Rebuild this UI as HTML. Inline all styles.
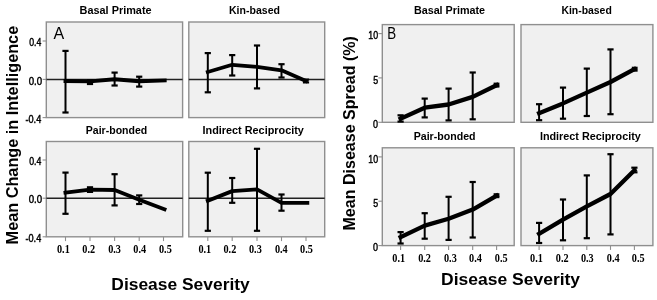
<!DOCTYPE html>
<html><head><meta charset="utf-8"><style>
html,body{margin:0;padding:0;background:#fff;}
svg{display:block;filter:blur(0.35px);}
</style></head><body>
<svg width="657" height="300" viewBox="0 0 657 300">
<rect width="657" height="300" fill="#fff"/>
<rect x="46.3" y="22.0" width="136.3" height="95.6" fill="#f0f0f0" stroke="#8f8f8f" stroke-width="1.4"/>
<rect x="188.8" y="22.0" width="135.89999999999998" height="95.6" fill="#f0f0f0" stroke="#8f8f8f" stroke-width="1.4"/>
<rect x="46.3" y="141.5" width="136.39999999999998" height="95.30000000000001" fill="#f0f0f0" stroke="#8f8f8f" stroke-width="1.4"/>
<rect x="188.8" y="141.5" width="135.89999999999998" height="95.30000000000001" fill="#f0f0f0" stroke="#8f8f8f" stroke-width="1.4"/>
<line x1="46.3" y1="79.4" x2="182.6" y2="79.4" stroke="#222" stroke-width="1.5"/>
<line x1="188.8" y1="79.4" x2="324.7" y2="79.4" stroke="#222" stroke-width="1.5"/>
<line x1="46.3" y1="198.2" x2="182.7" y2="198.2" stroke="#222" stroke-width="1.5"/>
<line x1="188.8" y1="198.2" x2="324.7" y2="198.2" stroke="#222" stroke-width="1.5"/>
<line x1="42.6" y1="41.0" x2="46.3" y2="41.0" stroke="#8f8f8f" stroke-width="1.1"/>
<line x1="42.6" y1="79.4" x2="46.3" y2="79.4" stroke="#8f8f8f" stroke-width="1.1"/>
<line x1="42.6" y1="117.6" x2="46.3" y2="117.6" stroke="#8f8f8f" stroke-width="1.1"/>
<line x1="42.6" y1="160.0" x2="46.3" y2="160.0" stroke="#8f8f8f" stroke-width="1.1"/>
<line x1="42.6" y1="198.2" x2="46.3" y2="198.2" stroke="#8f8f8f" stroke-width="1.1"/>
<line x1="42.6" y1="236.8" x2="46.3" y2="236.8" stroke="#8f8f8f" stroke-width="1.1"/>
<line x1="65.5" y1="236.8" x2="65.5" y2="241.10000000000002" stroke="#8f8f8f" stroke-width="1.1"/>
<line x1="90.0" y1="236.8" x2="90.0" y2="241.10000000000002" stroke="#8f8f8f" stroke-width="1.1"/>
<line x1="114.6" y1="236.8" x2="114.6" y2="241.10000000000002" stroke="#8f8f8f" stroke-width="1.1"/>
<line x1="139.2" y1="236.8" x2="139.2" y2="241.10000000000002" stroke="#8f8f8f" stroke-width="1.1"/>
<line x1="163.5" y1="236.8" x2="163.5" y2="241.10000000000002" stroke="#8f8f8f" stroke-width="1.1"/>
<line x1="207.8" y1="236.8" x2="207.8" y2="241.10000000000002" stroke="#8f8f8f" stroke-width="1.1"/>
<line x1="232.2" y1="236.8" x2="232.2" y2="241.10000000000002" stroke="#8f8f8f" stroke-width="1.1"/>
<line x1="257.0" y1="236.8" x2="257.0" y2="241.10000000000002" stroke="#8f8f8f" stroke-width="1.1"/>
<line x1="281.5" y1="236.8" x2="281.5" y2="241.10000000000002" stroke="#8f8f8f" stroke-width="1.1"/>
<line x1="306.0" y1="236.8" x2="306.0" y2="241.10000000000002" stroke="#8f8f8f" stroke-width="1.1"/>
<path d="M65.5,81.0 L90.0,81.4 L114.6,79.2 L139.2,81.2 L164.7,80.4" fill="none" stroke="#000" stroke-width="3.9" stroke-linejoin="round" stroke-linecap="square"/>
<line x1="65.5" y1="50.9" x2="65.5" y2="112.5" stroke="#000" stroke-width="2.0"/><line x1="62.4" y1="50.9" x2="68.6" y2="50.9" stroke="#000" stroke-width="2.2"/><line x1="62.4" y1="112.5" x2="68.6" y2="112.5" stroke="#000" stroke-width="2.2"/>
<line x1="90.0" y1="80.4" x2="90.0" y2="84.0" stroke="#000" stroke-width="2.0"/><line x1="86.9" y1="80.4" x2="93.1" y2="80.4" stroke="#000" stroke-width="2.2"/><line x1="86.9" y1="84.0" x2="93.1" y2="84.0" stroke="#000" stroke-width="2.2"/>
<line x1="114.6" y1="72.6" x2="114.6" y2="85.5" stroke="#000" stroke-width="2.0"/><line x1="111.5" y1="72.6" x2="117.69999999999999" y2="72.6" stroke="#000" stroke-width="2.2"/><line x1="111.5" y1="85.5" x2="117.69999999999999" y2="85.5" stroke="#000" stroke-width="2.2"/>
<line x1="139.2" y1="76.7" x2="139.2" y2="86.6" stroke="#000" stroke-width="2.0"/><line x1="136.1" y1="76.7" x2="142.29999999999998" y2="76.7" stroke="#000" stroke-width="2.2"/><line x1="136.1" y1="86.6" x2="142.29999999999998" y2="86.6" stroke="#000" stroke-width="2.2"/>
<path d="M207.8,72.0 L232.2,64.8 L257.0,66.8 L281.5,70.3 L306.0,81.0" fill="none" stroke="#000" stroke-width="3.8" stroke-linejoin="round" stroke-linecap="square"/>
<line x1="207.8" y1="53.1" x2="207.8" y2="92.3" stroke="#000" stroke-width="2.0"/><line x1="204.70000000000002" y1="53.1" x2="210.9" y2="53.1" stroke="#000" stroke-width="2.2"/><line x1="204.70000000000002" y1="92.3" x2="210.9" y2="92.3" stroke="#000" stroke-width="2.2"/>
<line x1="232.2" y1="55.1" x2="232.2" y2="75.5" stroke="#000" stroke-width="2.0"/><line x1="229.1" y1="55.1" x2="235.29999999999998" y2="55.1" stroke="#000" stroke-width="2.2"/><line x1="229.1" y1="75.5" x2="235.29999999999998" y2="75.5" stroke="#000" stroke-width="2.2"/>
<line x1="257.0" y1="45.5" x2="257.0" y2="88.4" stroke="#000" stroke-width="2.0"/><line x1="253.9" y1="45.5" x2="260.1" y2="45.5" stroke="#000" stroke-width="2.2"/><line x1="253.9" y1="88.4" x2="260.1" y2="88.4" stroke="#000" stroke-width="2.2"/>
<line x1="281.5" y1="64.2" x2="281.5" y2="77.5" stroke="#000" stroke-width="2.0"/><line x1="278.4" y1="64.2" x2="284.6" y2="64.2" stroke="#000" stroke-width="2.2"/><line x1="278.4" y1="77.5" x2="284.6" y2="77.5" stroke="#000" stroke-width="2.2"/>
<line x1="306.0" y1="79.6" x2="306.0" y2="82.4" stroke="#000" stroke-width="2.0"/><line x1="302.9" y1="79.6" x2="309.1" y2="79.6" stroke="#000" stroke-width="2.2"/><line x1="302.9" y1="82.4" x2="309.1" y2="82.4" stroke="#000" stroke-width="2.2"/>
<path d="M65.5,192.6 L90.0,189.6 L114.6,190.0 L139.2,199.8 L164.5,209.3" fill="none" stroke="#000" stroke-width="3.9" stroke-linejoin="round" stroke-linecap="square"/>
<line x1="65.5" y1="172.6" x2="65.5" y2="213.8" stroke="#000" stroke-width="2.0"/><line x1="62.4" y1="172.6" x2="68.6" y2="172.6" stroke="#000" stroke-width="2.2"/><line x1="62.4" y1="213.8" x2="68.6" y2="213.8" stroke="#000" stroke-width="2.2"/>
<line x1="90.0" y1="187.3" x2="90.0" y2="191.9" stroke="#000" stroke-width="2.0"/><line x1="86.9" y1="187.3" x2="93.1" y2="187.3" stroke="#000" stroke-width="2.2"/><line x1="86.9" y1="191.9" x2="93.1" y2="191.9" stroke="#000" stroke-width="2.2"/>
<line x1="114.6" y1="174.2" x2="114.6" y2="205.4" stroke="#000" stroke-width="2.0"/><line x1="111.5" y1="174.2" x2="117.69999999999999" y2="174.2" stroke="#000" stroke-width="2.2"/><line x1="111.5" y1="205.4" x2="117.69999999999999" y2="205.4" stroke="#000" stroke-width="2.2"/>
<line x1="139.2" y1="195.4" x2="139.2" y2="204.0" stroke="#000" stroke-width="2.0"/><line x1="136.1" y1="195.4" x2="142.29999999999998" y2="195.4" stroke="#000" stroke-width="2.2"/><line x1="136.1" y1="204.0" x2="142.29999999999998" y2="204.0" stroke="#000" stroke-width="2.2"/>
<path d="M207.8,200.7 L232.2,191.1 L257.0,189.4 L281.5,202.9 L307.3,202.9" fill="none" stroke="#000" stroke-width="3.9" stroke-linejoin="round" stroke-linecap="square"/>
<line x1="207.8" y1="172.7" x2="207.8" y2="230.8" stroke="#000" stroke-width="2.0"/><line x1="204.70000000000002" y1="172.7" x2="210.9" y2="172.7" stroke="#000" stroke-width="2.2"/><line x1="204.70000000000002" y1="230.8" x2="210.9" y2="230.8" stroke="#000" stroke-width="2.2"/>
<line x1="232.2" y1="178.0" x2="232.2" y2="202.8" stroke="#000" stroke-width="2.0"/><line x1="229.1" y1="178.0" x2="235.29999999999998" y2="178.0" stroke="#000" stroke-width="2.2"/><line x1="229.1" y1="202.8" x2="235.29999999999998" y2="202.8" stroke="#000" stroke-width="2.2"/>
<line x1="257.0" y1="148.8" x2="257.0" y2="230.8" stroke="#000" stroke-width="2.0"/><line x1="253.9" y1="148.8" x2="260.1" y2="148.8" stroke="#000" stroke-width="2.2"/><line x1="253.9" y1="230.8" x2="260.1" y2="230.8" stroke="#000" stroke-width="2.2"/>
<line x1="281.5" y1="194.5" x2="281.5" y2="210.7" stroke="#000" stroke-width="2.0"/><line x1="278.4" y1="194.5" x2="284.6" y2="194.5" stroke="#000" stroke-width="2.2"/><line x1="278.4" y1="210.7" x2="284.6" y2="210.7" stroke="#000" stroke-width="2.2"/>
<rect x="382.3" y="24.6" width="131.90000000000003" height="97.69999999999999" fill="#f0f0f0" stroke="#8f8f8f" stroke-width="1.4"/>
<rect x="521.0" y="24.6" width="131.89999999999998" height="97.69999999999999" fill="#f0f0f0" stroke="#8f8f8f" stroke-width="1.4"/>
<rect x="382.3" y="147.8" width="131.90000000000003" height="97.79999999999998" fill="#f0f0f0" stroke="#8f8f8f" stroke-width="1.4"/>
<rect x="521.0" y="147.8" width="131.89999999999998" height="97.79999999999998" fill="#f0f0f0" stroke="#8f8f8f" stroke-width="1.4"/>
<line x1="378.4" y1="33.6" x2="382.3" y2="33.6" stroke="#8f8f8f" stroke-width="1.1"/>
<line x1="378.4" y1="77.9" x2="382.3" y2="77.9" stroke="#8f8f8f" stroke-width="1.1"/>
<line x1="378.4" y1="122.3" x2="382.3" y2="122.3" stroke="#8f8f8f" stroke-width="1.1"/>
<line x1="378.4" y1="156.9" x2="382.3" y2="156.9" stroke="#8f8f8f" stroke-width="1.1"/>
<line x1="378.4" y1="201.2" x2="382.3" y2="201.2" stroke="#8f8f8f" stroke-width="1.1"/>
<line x1="378.4" y1="245.6" x2="382.3" y2="245.6" stroke="#8f8f8f" stroke-width="1.1"/>
<line x1="400.6" y1="245.6" x2="400.6" y2="249.9" stroke="#8f8f8f" stroke-width="1.1"/>
<line x1="424.7" y1="245.6" x2="424.7" y2="249.9" stroke="#8f8f8f" stroke-width="1.1"/>
<line x1="448.6" y1="245.6" x2="448.6" y2="249.9" stroke="#8f8f8f" stroke-width="1.1"/>
<line x1="472.7" y1="245.6" x2="472.7" y2="249.9" stroke="#8f8f8f" stroke-width="1.1"/>
<line x1="496.6" y1="245.6" x2="496.6" y2="249.9" stroke="#8f8f8f" stroke-width="1.1"/>
<line x1="539.1" y1="245.6" x2="539.1" y2="249.9" stroke="#8f8f8f" stroke-width="1.1"/>
<line x1="563.0" y1="245.6" x2="563.0" y2="249.9" stroke="#8f8f8f" stroke-width="1.1"/>
<line x1="586.8" y1="245.6" x2="586.8" y2="249.9" stroke="#8f8f8f" stroke-width="1.1"/>
<line x1="610.5" y1="245.6" x2="610.5" y2="249.9" stroke="#8f8f8f" stroke-width="1.1"/>
<line x1="634.4" y1="245.6" x2="634.4" y2="249.9" stroke="#8f8f8f" stroke-width="1.1"/>
<path d="M400.6,118.6 L424.7,107.7 L448.6,104.5 L472.7,96.9 L496.6,85.2" fill="none" stroke="#000" stroke-width="4.3" stroke-linejoin="round" stroke-linecap="square"/>
<line x1="400.6" y1="115.3" x2="400.6" y2="121.6" stroke="#000" stroke-width="2.0"/><line x1="397.5" y1="115.3" x2="403.70000000000005" y2="115.3" stroke="#000" stroke-width="2.2"/><line x1="397.5" y1="121.6" x2="403.70000000000005" y2="121.6" stroke="#000" stroke-width="2.2"/>
<line x1="424.7" y1="98.6" x2="424.7" y2="117.4" stroke="#000" stroke-width="2.0"/><line x1="421.59999999999997" y1="98.6" x2="427.8" y2="98.6" stroke="#000" stroke-width="2.2"/><line x1="421.59999999999997" y1="117.4" x2="427.8" y2="117.4" stroke="#000" stroke-width="2.2"/>
<line x1="448.6" y1="88.6" x2="448.6" y2="120.4" stroke="#000" stroke-width="2.0"/><line x1="445.5" y1="88.6" x2="451.70000000000005" y2="88.6" stroke="#000" stroke-width="2.2"/><line x1="445.5" y1="120.4" x2="451.70000000000005" y2="120.4" stroke="#000" stroke-width="2.2"/>
<line x1="472.7" y1="72.5" x2="472.7" y2="119.3" stroke="#000" stroke-width="2.0"/><line x1="469.59999999999997" y1="72.5" x2="475.8" y2="72.5" stroke="#000" stroke-width="2.2"/><line x1="469.59999999999997" y1="119.3" x2="475.8" y2="119.3" stroke="#000" stroke-width="2.2"/>
<rect x="493.60" y="82.60" width="5.8" height="5.0" fill="#000"/>
<path d="M539.1,113.2 L563.0,103.4 L586.8,92.6 L610.5,82.0 L634.4,69.2" fill="none" stroke="#000" stroke-width="4.3" stroke-linejoin="round" stroke-linecap="square"/>
<line x1="539.1" y1="104.2" x2="539.1" y2="120.2" stroke="#000" stroke-width="2.0"/><line x1="536.0" y1="104.2" x2="542.2" y2="104.2" stroke="#000" stroke-width="2.2"/><line x1="536.0" y1="120.2" x2="542.2" y2="120.2" stroke="#000" stroke-width="2.2"/>
<line x1="563.0" y1="87.6" x2="563.0" y2="118.7" stroke="#000" stroke-width="2.0"/><line x1="559.9" y1="87.6" x2="566.1" y2="87.6" stroke="#000" stroke-width="2.2"/><line x1="559.9" y1="118.7" x2="566.1" y2="118.7" stroke="#000" stroke-width="2.2"/>
<line x1="586.8" y1="68.6" x2="586.8" y2="116.0" stroke="#000" stroke-width="2.0"/><line x1="583.6999999999999" y1="68.6" x2="589.9" y2="68.6" stroke="#000" stroke-width="2.2"/><line x1="583.6999999999999" y1="116.0" x2="589.9" y2="116.0" stroke="#000" stroke-width="2.2"/>
<line x1="610.5" y1="49.4" x2="610.5" y2="114.2" stroke="#000" stroke-width="2.0"/><line x1="607.4" y1="49.4" x2="613.6" y2="49.4" stroke="#000" stroke-width="2.2"/><line x1="607.4" y1="114.2" x2="613.6" y2="114.2" stroke="#000" stroke-width="2.2"/>
<rect x="631.80" y="66.70" width="5.8" height="5.0" fill="#000"/>
<path d="M400.6,237.1 L424.7,225.6 L448.6,218.8 L472.7,209.6 L496.6,195.8" fill="none" stroke="#000" stroke-width="4.3" stroke-linejoin="round" stroke-linecap="square"/>
<line x1="400.6" y1="232.1" x2="400.6" y2="243.5" stroke="#000" stroke-width="2.0"/><line x1="397.5" y1="232.1" x2="403.70000000000005" y2="232.1" stroke="#000" stroke-width="2.2"/><line x1="397.5" y1="243.5" x2="403.70000000000005" y2="243.5" stroke="#000" stroke-width="2.2"/>
<line x1="424.7" y1="213.2" x2="424.7" y2="238.7" stroke="#000" stroke-width="2.0"/><line x1="421.59999999999997" y1="213.2" x2="427.8" y2="213.2" stroke="#000" stroke-width="2.2"/><line x1="421.59999999999997" y1="238.7" x2="427.8" y2="238.7" stroke="#000" stroke-width="2.2"/>
<line x1="448.6" y1="196.8" x2="448.6" y2="239.9" stroke="#000" stroke-width="2.0"/><line x1="445.5" y1="196.8" x2="451.70000000000005" y2="196.8" stroke="#000" stroke-width="2.2"/><line x1="445.5" y1="239.9" x2="451.70000000000005" y2="239.9" stroke="#000" stroke-width="2.2"/>
<line x1="472.7" y1="182.0" x2="472.7" y2="237.5" stroke="#000" stroke-width="2.0"/><line x1="469.59999999999997" y1="182.0" x2="475.8" y2="182.0" stroke="#000" stroke-width="2.2"/><line x1="469.59999999999997" y1="237.5" x2="475.8" y2="237.5" stroke="#000" stroke-width="2.2"/>
<rect x="493.60" y="193.20" width="5.8" height="5.0" fill="#000"/>
<path d="M539.1,233.8 L563.0,219.6 L586.8,206.4 L610.5,194.0 L634.4,170.2" fill="none" stroke="#000" stroke-width="4.3" stroke-linejoin="round" stroke-linecap="square"/>
<line x1="539.1" y1="222.9" x2="539.1" y2="243.0" stroke="#000" stroke-width="2.0"/><line x1="536.0" y1="222.9" x2="542.2" y2="222.9" stroke="#000" stroke-width="2.2"/><line x1="536.0" y1="243.0" x2="542.2" y2="243.0" stroke="#000" stroke-width="2.2"/>
<line x1="563.0" y1="199.5" x2="563.0" y2="240.3" stroke="#000" stroke-width="2.0"/><line x1="559.9" y1="199.5" x2="566.1" y2="199.5" stroke="#000" stroke-width="2.2"/><line x1="559.9" y1="240.3" x2="566.1" y2="240.3" stroke="#000" stroke-width="2.2"/>
<line x1="586.8" y1="175.4" x2="586.8" y2="238.2" stroke="#000" stroke-width="2.0"/><line x1="583.6999999999999" y1="175.4" x2="589.9" y2="175.4" stroke="#000" stroke-width="2.2"/><line x1="583.6999999999999" y1="238.2" x2="589.9" y2="238.2" stroke="#000" stroke-width="2.2"/>
<line x1="610.5" y1="154.2" x2="610.5" y2="234.4" stroke="#000" stroke-width="2.0"/><line x1="607.4" y1="154.2" x2="613.6" y2="154.2" stroke="#000" stroke-width="2.2"/><line x1="607.4" y1="234.4" x2="613.6" y2="234.4" stroke="#000" stroke-width="2.2"/>
<line x1="634.4" y1="167.7" x2="634.4" y2="172.3" stroke="#000" stroke-width="2.0"/><line x1="631.3" y1="167.7" x2="637.5" y2="167.7" stroke="#000" stroke-width="2.2"/><line x1="631.3" y1="172.3" x2="637.5" y2="172.3" stroke="#000" stroke-width="2.2"/>
<g fill="#000">
<text x="79.6" y="14.0" font-family="Liberation Sans" font-weight="bold" font-size="10.8" text-anchor="start" textLength="72.0" lengthAdjust="spacingAndGlyphs">Basal Primate</text>
<text x="229.0" y="13.8" font-family="Liberation Sans" font-weight="bold" font-size="10.8" text-anchor="start" textLength="51.0" lengthAdjust="spacingAndGlyphs">Kin-based</text>
<text x="85.8" y="133.6" font-family="Liberation Sans" font-weight="bold" font-size="10.8" text-anchor="start" textLength="61.4" lengthAdjust="spacingAndGlyphs">Pair-bonded</text>
<text x="202.5" y="133.7" font-family="Liberation Sans" font-weight="bold" font-size="10.8" text-anchor="start" textLength="101.4" lengthAdjust="spacingAndGlyphs">Indirect Reciprocity</text>
<text x="413.9" y="14.0" font-family="Liberation Sans" font-weight="bold" font-size="10.8" text-anchor="start" textLength="71.2" lengthAdjust="spacingAndGlyphs">Basal Primate</text>
<text x="561.4" y="14.0" font-family="Liberation Sans" font-weight="bold" font-size="10.8" text-anchor="start" textLength="50.4" lengthAdjust="spacingAndGlyphs">Kin-based</text>
<text x="413.7" y="139.8" font-family="Liberation Sans" font-weight="bold" font-size="10.8" text-anchor="start" textLength="61.9" lengthAdjust="spacingAndGlyphs">Pair-bonded</text>
<text x="539.9" y="139.8" font-family="Liberation Sans" font-weight="bold" font-size="10.8" text-anchor="start" textLength="100.9" lengthAdjust="spacingAndGlyphs">Indirect Reciprocity</text>
<text x="53.4" y="39.0" font-family="Liberation Sans" font-weight="normal" font-size="15.8" text-anchor="start" textLength="10.7" lengthAdjust="spacingAndGlyphs">A</text>
<text x="387.3" y="39.0" font-family="Liberation Sans" font-weight="normal" font-size="16.2" text-anchor="start" textLength="8.9" lengthAdjust="spacingAndGlyphs">B</text>
<text x="29.2" y="46.2" font-family="Liberation Sans" font-weight="normal" font-size="10.7" text-anchor="start" textLength="12.1" lengthAdjust="spacingAndGlyphs" stroke="#000" stroke-width="0.45">0.4</text>
<text x="28.7" y="84.60000000000001" font-family="Liberation Sans" font-weight="normal" font-size="10.7" text-anchor="start" textLength="13.4" lengthAdjust="spacingAndGlyphs" stroke="#000" stroke-width="0.45">0.0</text>
<text x="25.5" y="122.5" font-family="Liberation Sans" font-weight="normal" font-size="10.7" text-anchor="start" textLength="15.7" lengthAdjust="spacingAndGlyphs" stroke="#000" stroke-width="0.45">-0.4</text>
<text x="29.2" y="165.2" font-family="Liberation Sans" font-weight="normal" font-size="10.7" text-anchor="start" textLength="12.1" lengthAdjust="spacingAndGlyphs" stroke="#000" stroke-width="0.45">0.4</text>
<text x="28.7" y="203.39999999999998" font-family="Liberation Sans" font-weight="normal" font-size="10.7" text-anchor="start" textLength="13.4" lengthAdjust="spacingAndGlyphs" stroke="#000" stroke-width="0.45">0.0</text>
<text x="25.5" y="242.0" font-family="Liberation Sans" font-weight="normal" font-size="10.7" text-anchor="start" textLength="15.7" lengthAdjust="spacingAndGlyphs" stroke="#000" stroke-width="0.45">-0.4</text>
<text x="368.3" y="39.2" font-family="Liberation Sans" font-weight="normal" font-size="11.6" text-anchor="start" textLength="9.8" lengthAdjust="spacingAndGlyphs" stroke="#000" stroke-width="0.45">10</text>
<text x="373.3" y="83.5" font-family="Liberation Sans" font-weight="normal" font-size="11.6" text-anchor="start" textLength="4.9" lengthAdjust="spacingAndGlyphs" stroke="#000" stroke-width="0.45">5</text>
<text x="373.1" y="127.89999999999999" font-family="Liberation Sans" font-weight="normal" font-size="11.6" text-anchor="start" textLength="5.0" lengthAdjust="spacingAndGlyphs" stroke="#000" stroke-width="0.45">0</text>
<text x="368.3" y="162.5" font-family="Liberation Sans" font-weight="normal" font-size="11.6" text-anchor="start" textLength="9.8" lengthAdjust="spacingAndGlyphs" stroke="#000" stroke-width="0.45">10</text>
<text x="373.3" y="206.79999999999998" font-family="Liberation Sans" font-weight="normal" font-size="11.6" text-anchor="start" textLength="4.9" lengthAdjust="spacingAndGlyphs" stroke="#000" stroke-width="0.45">5</text>
<text x="373.1" y="251.2" font-family="Liberation Sans" font-weight="normal" font-size="11.6" text-anchor="start" textLength="5.0" lengthAdjust="spacingAndGlyphs" stroke="#000" stroke-width="0.45">0</text>
<text x="57.0" y="252.8" font-family="Liberation Serif" font-weight="bold" font-size="12.0" text-anchor="start" textLength="12.8" lengthAdjust="spacingAndGlyphs">0.1</text>
<text x="82.3" y="252.8" font-family="Liberation Serif" font-weight="bold" font-size="12.0" text-anchor="start" textLength="12.8" lengthAdjust="spacingAndGlyphs">0.2</text>
<text x="108.2" y="252.8" font-family="Liberation Serif" font-weight="bold" font-size="12.0" text-anchor="start" textLength="12.8" lengthAdjust="spacingAndGlyphs">0.3</text>
<text x="133.3" y="252.8" font-family="Liberation Serif" font-weight="bold" font-size="12.0" text-anchor="start" textLength="12.8" lengthAdjust="spacingAndGlyphs">0.4</text>
<text x="159.0" y="252.8" font-family="Liberation Serif" font-weight="bold" font-size="12.0" text-anchor="start" textLength="12.8" lengthAdjust="spacingAndGlyphs">0.5</text>
<text x="198.4" y="252.8" font-family="Liberation Serif" font-weight="bold" font-size="12.0" text-anchor="start" textLength="12.8" lengthAdjust="spacingAndGlyphs">0.1</text>
<text x="223.5" y="252.8" font-family="Liberation Serif" font-weight="bold" font-size="12.0" text-anchor="start" textLength="12.8" lengthAdjust="spacingAndGlyphs">0.2</text>
<text x="249.0" y="252.8" font-family="Liberation Serif" font-weight="bold" font-size="12.0" text-anchor="start" textLength="12.8" lengthAdjust="spacingAndGlyphs">0.3</text>
<text x="274.9" y="252.8" font-family="Liberation Serif" font-weight="bold" font-size="12.0" text-anchor="start" textLength="12.8" lengthAdjust="spacingAndGlyphs">0.4</text>
<text x="300.1" y="252.8" font-family="Liberation Serif" font-weight="bold" font-size="12.0" text-anchor="start" textLength="12.8" lengthAdjust="spacingAndGlyphs">0.5</text>
<text x="392.3" y="261.7" font-family="Liberation Serif" font-weight="bold" font-size="12.0" text-anchor="start" textLength="12.8" lengthAdjust="spacingAndGlyphs">0.1</text>
<text x="418.2" y="261.7" font-family="Liberation Serif" font-weight="bold" font-size="12.0" text-anchor="start" textLength="12.8" lengthAdjust="spacingAndGlyphs">0.2</text>
<text x="444.0" y="261.7" font-family="Liberation Serif" font-weight="bold" font-size="12.0" text-anchor="start" textLength="12.8" lengthAdjust="spacingAndGlyphs">0.3</text>
<text x="469.1" y="261.7" font-family="Liberation Serif" font-weight="bold" font-size="12.0" text-anchor="start" textLength="12.8" lengthAdjust="spacingAndGlyphs">0.4</text>
<text x="494.8" y="261.7" font-family="Liberation Serif" font-weight="bold" font-size="12.0" text-anchor="start" textLength="12.8" lengthAdjust="spacingAndGlyphs">0.5</text>
<text x="530.1" y="261.7" font-family="Liberation Serif" font-weight="bold" font-size="12.0" text-anchor="start" textLength="12.8" lengthAdjust="spacingAndGlyphs">0.1</text>
<text x="555.8" y="261.7" font-family="Liberation Serif" font-weight="bold" font-size="12.0" text-anchor="start" textLength="12.8" lengthAdjust="spacingAndGlyphs">0.2</text>
<text x="580.9" y="261.7" font-family="Liberation Serif" font-weight="bold" font-size="12.0" text-anchor="start" textLength="12.8" lengthAdjust="spacingAndGlyphs">0.3</text>
<text x="606.8" y="261.7" font-family="Liberation Serif" font-weight="bold" font-size="12.0" text-anchor="start" textLength="12.8" lengthAdjust="spacingAndGlyphs">0.4</text>
<text x="631.8" y="261.7" font-family="Liberation Serif" font-weight="bold" font-size="12.0" text-anchor="start" textLength="12.8" lengthAdjust="spacingAndGlyphs">0.5</text>
<text x="111.3" y="289.5" font-family="Liberation Sans" font-weight="bold" font-size="17.3" text-anchor="start" textLength="138.5" lengthAdjust="spacingAndGlyphs">Disease Severity</text>
<text x="441.1" y="285.4" font-family="Liberation Sans" font-weight="bold" font-size="17.3" text-anchor="start" textLength="139.0" lengthAdjust="spacingAndGlyphs">Disease Severity</text>
<text x="0" y="0" font-family="Liberation Sans" font-weight="bold" font-size="16.6" text-anchor="start" textLength="218.6" lengthAdjust="spacingAndGlyphs" transform="translate(17.8,244.4) rotate(-90)">Mean Change in Intelligence</text>
<text x="0" y="0" font-family="Liberation Sans" font-weight="bold" font-size="16.6" text-anchor="start" textLength="194.5" lengthAdjust="spacingAndGlyphs" transform="translate(355.0,230.6) rotate(-90)">Mean Disease Spread (%)</text>
</g>
</svg>
</body></html>
